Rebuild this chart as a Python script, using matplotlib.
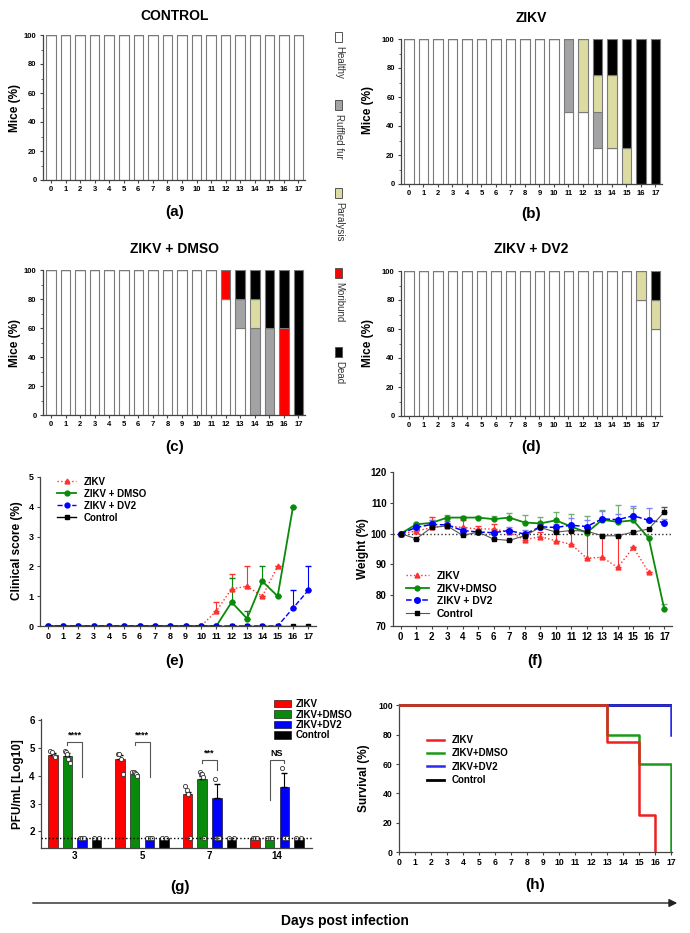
import numpy as np
import matplotlib
matplotlib.use("Agg")
import matplotlib.pyplot as plt
from matplotlib.patches import Rectangle, FancyArrowPatch
from matplotlib.ticker import MultipleLocator

plt.rcParams['font.family'] = ['Liberation Sans', 'DejaVu Sans']
plt.rcParams['font.weight'] = 'bold'

days = np.arange(18)

# ---- stacked clinical status (% of mice) ----
states = ['Healthy', 'Ruffled fur', 'Paralysis', 'Moribund', 'Dead']
state_colors = ['white', '#a3a3a6', '#dcdca2', '#ff0000', '#000000']

ctrl_healthy = [100] * 18
ctrl_ruffled = [0] * 18
ctrl_paral = [0] * 18
ctrl_morib = [0] * 18
ctrl_dead = [0] * 18

zikv_healthy = [100] * 11 + [50, 50, 25, 25, 0, 0, 0]
zikv_ruffled = [0] * 11 + [50, 0, 25, 0, 0, 0, 0]
zikv_paral = [0] * 11 + [0, 50, 25, 50, 25, 0, 0]
zikv_morib = [0] * 18
zikv_dead = [0] * 11 + [0, 0, 25, 25, 75, 100, 100]

dmso_healthy = [100] * 12 + [80, 60, 0, 0, 0, 0]
dmso_ruffled = [0] * 12 + [0, 20, 60, 60, 0, 0]
dmso_paral = [0] * 12 + [0, 0, 20, 0, 0, 0]
dmso_morib = [0] * 12 + [20, 0, 0, 0, 60, 0]
dmso_dead = [0] * 12 + [0, 20, 20, 40, 40, 100]

dv2_healthy = [100] * 16 + [80, 60]
dv2_ruffled = [0] * 18
dv2_paral = [0] * 16 + [20, 20]
dv2_morib = [0] * 18
dv2_dead = [0] * 16 + [0, 20]

# ---- clinical score ----
score_zikv = [0] * 11 + [0.5, 1.25, 1.33, 1.0, 2.0]
score_zikv_err = [0] * 11 + [0.3, 0.5, 0.67, 0, 0]
score_dmso = [0] * 12 + [0.8, 0.25, 1.5, 1.0, 4.0]
score_dmso_err = [0] * 12 + [0.8, 0.25, 0.5, 0, 0]
score_dv2 = [0] * 16 + [0.6, 1.2]
score_dv2_err = [0] * 16 + [0.6, 0.8]
score_ctrl = [0] * 18

# ---- weight (%) ----
w_zikv = [100, 100.8, 102, 102.5, 102, 101.5, 101.5, 100.5, 98, 99, 97.7, 96.5,
          92, 92.3, 89, 95.5, 87.5]
w_zikv_err = [0, 0.8, 3.5, 1.5, 2.5, 1, 1.5, 1, 1, 1.5, 3.5, 4.5, 8.5, 7.5, 10.5, 0, 0]
w_dmso = [100, 103, 103.5, 105.2, 105.2, 105.2, 104.7, 105.2, 103.6, 103.3, 104.3,
          102.3, 100.3, 104.5, 103.8, 104.3, 98.5, 75.5]
w_dmso_err = [0, 0.5, 0.8, 1, 0.5, 0.5, 1, 1.5, 2.5, 2.2, 2.8, 4.2, 5.5, 3.3, 5.5, 4, 0, 1.5]
w_dv2 = [100, 102, 103, 102.8, 101, 100.5, 100.3, 101, 99.8, 102.2, 102, 102.7,
         102.3, 104.8, 104.5, 105.8, 104.3, 103.6]
w_dv2_err = [0, 0.8, 1.5, 0.5, 0.8, 0.8, 1, 1, 1.5, 1, 1, 2.5, 2, 2.5, 2, 3, 4, 1]
w_ctrl = [100, 98.3, 102, 102.5, 99.4, 100.5, 98.2, 97.8, 99.3, 102, 100.5, 101,
          100.8, 99.3, 99.3, 100.5, 101.5, 107]
w_ctrl_err = [0] * 17 + [1.5]

# ---- viral titre (log10 PFU/mL) ----
titre_days = ['3', '5', '7', '14']
titre_groups = ['ZIKV', 'ZIKV+DMSO', 'ZIKV+DV2', 'Control']
titre_colors = ['#ff0000', '#0a8a0a', '#0000ff', '#000000']
titre_mean = [[4.75, 4.6, 3.33, 1.75],
              [4.72, 4.05, 3.88, 1.75],
              [1.75, 1.75, 3.2, 3.6],
              [1.75, 1.75, 1.75, 1.75]]
titre_err = [[0.08, 0.15, 0.1, 0],
             [0.12, 0.05, 0.1, 0],
             [0, 0, 0.5, 0.5],
             [0, 0, 0, 0]]
titre_points = [
    [[4.88, 4.85, 4.7, 4.68], [4.8, 4.78, 4.6, 4.05], [3.65, 3.5, 3.35, 1.75], [1.75, 1.75, 1.75]],
    [[4.9, 4.85, 4.78, 4.6, 4.45], [4.13, 4.13, 4.1, 4.05, 4.0], [4.15, 4.08, 4.05, 3.95, 1.75], [1.75, 1.75, 1.75]],
    [[1.75, 1.75, 1.75], [1.75, 1.75, 1.75], [3.88, 1.75, 1.75, 1.75], [4.3, 1.75, 1.75]],
    [[1.75, 1.75], [1.75, 1.75], [1.75, 1.75], [1.75, 1.75]],
]
detect_limit = 1.75
sig_labels = ['****', '****', '***', 'NS']

# ---- survival (%) ----
surv_zikv_t = [0, 13, 13, 15, 15, 16, 16]
surv_zikv = [100, 100, 75, 75, 25, 25, 0]
surv_dmso_t = [0, 13, 13, 15, 15, 17, 17]
surv_dmso = [100, 100, 80, 80, 60, 60, 0]
surv_dv2_t = [0, 17, 17]
surv_dv2 = [100, 100, 80]
surv_ctrl_t = [0, 17]
surv_ctrl = [100, 100]

W, H = 690, 933
fig = plt.figure(figsize=(W / 100, H / 100), dpi=100)


def px_axes(l, t, r, b):
    return fig.add_axes([l / W, 1 - b / H, (r - l) / W, (b - t) / H])


def style(ax, fs=5.5):
    for s in ['top', 'right']:
        ax.spines[s].set_visible(False)
    for s in ['left', 'bottom']:
        ax.spines[s].set_color('#444444')
        ax.spines[s].set_linewidth(0.9)
    ax.tick_params(labelsize=fs, length=2.5, width=0.8, color='#444444', pad=2)
    for lab in ax.get_xticklabels() + ax.get_yticklabels():
        lab.set_fontweight('bold')


def stacked(ax, layers):
    bottom = np.zeros(18)
    for vals, c in zip(layers, state_colors):
        vals = np.array(vals, dtype=float)
        ax.bar(days, vals, 0.66, bottom=bottom, color=c, edgecolor='#7a7a7a', linewidth=0.8)
        bottom += vals
    ax.set_xlim(-0.55, 17.45)
    ax.set_ylim(0, 100)
    ax.set_xticks(days)
    ax.set_yticks(range(0, 101, 20))
    ax.yaxis.set_minor_locator(MultipleLocator(10))
    ax.tick_params(which='minor', length=1.5, color='#444444')
    style(ax)


ax_a = px_axes(43, 35, 305, 180)
stacked(ax_a, [ctrl_healthy, ctrl_ruffled, ctrl_paral, ctrl_morib, ctrl_dead])
ax_b = px_axes(401, 39, 662, 184)
stacked(ax_b, [zikv_healthy, zikv_ruffled, zikv_paral, zikv_morib, zikv_dead])
ax_c = px_axes(43, 270, 305, 415)
stacked(ax_c, [dmso_healthy, dmso_ruffled, dmso_paral, dmso_morib, dmso_dead])
ax_d = px_axes(401, 271, 662, 416)
stacked(ax_d, [dv2_healthy, dv2_ruffled, dv2_paral, dv2_morib, dv2_dead])

for (x, y, t) in [(175, 16, 'CONTROL'), (531, 18, 'ZIKV'),
                  (175, 249, 'ZIKV + DMSO'), (531, 249, 'ZIKV + DV2')]:
    fig.text(x / W, 1 - y / H, t, ha='center', va='center', fontsize=10, fontweight='bold')
for (x, y) in [(15, 108), (368, 110), (15, 343), (368, 343)]:
    fig.text(x / W, 1 - y / H, 'Mice (%)', rotation=90, ha='center', va='center',
             fontsize=8.5, fontweight='bold')

# vertical legend for states
leg_y = [32, 100, 188, 268, 347]
for st, c, y in zip(states, state_colors, leg_y):
    fig.add_artist(Rectangle((335 / W, 1 - (y + 10) / H), 7 / W, 10 / H, transform=fig.transFigure,
                             facecolor=c, edgecolor='#555555', linewidth=0.7))
    fig.text(339 / W, 1 - (y + 14) / H, st, rotation=270, ha='center', va='top',
             fontsize=7, fontweight='normal', color='#333333')

# ---- (e) clinical score ----
ax_e = px_axes(40, 477, 316, 626)
h1 = ax_e.errorbar(days[:16], score_zikv, yerr=[np.zeros(16), score_zikv_err], color='#ff3030',
                   ls=':', marker='^', ms=3.5, lw=1, capsize=2.5, elinewidth=0.8)
h2 = ax_e.errorbar(days[:17], score_dmso, yerr=[np.zeros(17), score_dmso_err], color='#0a8a0a',
                   ls='-', marker='o', ms=3.5, lw=1.3, capsize=2.5, elinewidth=0.8)
h3 = ax_e.errorbar(days, score_dv2, yerr=[np.zeros(18), score_dv2_err], color='#0000ff',
                   ls='--', marker='o', ms=3.5, lw=1, capsize=2.5, elinewidth=0.8)
h4, = ax_e.plot(days, score_ctrl, color='black', ls='-', marker='s', ms=3.5, lw=1, zorder=1)
ax_e.set_xlim(-0.5, 17.5)
ax_e.set_ylim(0, 5)
ax_e.set_xticks(days)
ax_e.set_yticks(range(6))
style(ax_e, 6.5)
ax_e.legend([h1[0], h2[0], h3[0], h4], ['ZIKV', 'ZIKV + DMSO', 'ZIKV + DV2', 'Control'],
            loc='upper left', bbox_to_anchor=(0.04, 1.04), frameon=False,
            prop={'weight': 'bold', 'size': 7}, handlelength=2, labelspacing=0.2, borderpad=0.1)
fig.text(17 / W, 1 - 551 / H, 'Clinical score (%)', rotation=90, ha='center', va='center',
         fontsize=8.5, fontweight='bold')

# ---- (f) weight ----
ax_f = px_axes(393, 472, 672, 626)
ax_f.axhline(100, color='#333333', ls=':', lw=1)
f1 = ax_f.errorbar(days[:17], w_zikv, yerr=[np.zeros(17), w_zikv_err], color='#ff3030', ls=':',
                   marker='^', ms=3.5, lw=1, capsize=2, elinewidth=0.8)
f2 = ax_f.errorbar(days, w_dmso, yerr=[np.zeros(18), w_dmso_err], color='#0a8a0a', ls='-',
                   marker='o', ms=3.5, lw=1.3, capsize=2, elinewidth=0.8, ecolor='#70b070')
f3 = ax_f.errorbar(days, w_dv2, yerr=[np.zeros(18), w_dv2_err], color='#0000ff', ls='--',
                   marker='o', ms=4, lw=1.1, capsize=2, elinewidth=0.8, ecolor='#8080ff')
f4 = ax_f.errorbar(days, w_ctrl, yerr=[np.zeros(18), w_ctrl_err], color='#555555', ls='-',
                   marker='s', ms=3.5, mfc='black', mec='black', lw=0.8, capsize=2, elinewidth=0.8)
ax_f.set_xlim(-0.5, 17.5)
ax_f.set_ylim(70, 120)
ax_f.set_xticks(days)
ax_f.set_yticks(range(70, 121, 10))
style(ax_f, 7)
ax_f.legend([f1[0], f2[0], f3[0], f4[0]], ['ZIKV', 'ZIKV+DMSO', 'ZIKV + DV2', 'Control'],
            loc='lower left', bbox_to_anchor=(0.02, 0.0), frameon=False,
            prop={'weight': 'bold', 'size': 7.5}, handlelength=2.2, labelspacing=0.25, borderpad=0.2)
fig.text(363 / W, 1 - 549 / H, 'Weight (%)', rotation=90, ha='center', va='center',
         fontsize=8.5, fontweight='bold')

# ---- (g) viral titre ----
ax_g = px_axes(41, 719, 312, 848)
xg = np.arange(len(titre_days))
offs = [-0.325, -0.11, 0.11, 0.325]
bw = 0.14
for gi in range(4):
    ax_g.bar(xg + offs[gi], np.array(titre_mean[gi]) - 1.4, bw, bottom=1.4, color=titre_colors[gi],
             edgecolor='black', linewidth=0.4, label=titre_groups[gi], zorder=2)
    errs = np.array(titre_err[gi])
    ax_g.errorbar(xg + offs[gi], titre_mean[gi], yerr=[np.zeros(4), errs], fmt='none',
                  ecolor='black', elinewidth=0.8, capsize=2, zorder=3)
    for di in range(4):
        pts = titre_points[gi][di]
        n = len(pts)
        jit = np.linspace(-0.035, 0.035, n) if n > 1 else [0]
        ax_g.plot(xg[di] + offs[gi] + np.array(jit), pts, 'o', ms=3, mfc='white',
                  mec='#333333', mew=0.6, zorder=4)
ax_g.axhline(detect_limit, color='black', ls=':', lw=1, zorder=5)
# significance brackets between ZIKV+DMSO and ZIKV+DV2
br_top = [5.22, 5.22, 4.59, 4.57]
br_left = [5.12, 5.12, 4.45, 3.14]
br_right = [3.95, 3.95, 4.21, 4.45]
for di in range(4):
    x1, x2 = xg[di] + offs[1], xg[di] + offs[2]
    ax_g.plot([x1, x1, x2, x2], [br_left[di], br_top[di], br_top[di], br_right[di]],
              color='#555555', lw=0.8)
    ax_g.text((x1 + x2) / 2, br_top[di] + 0.08, sig_labels[di], ha='center', va='bottom',
              fontsize=6.5, fontweight='bold')
ax_g.set_xlim(-0.5, 3.52)
ax_g.set_ylim(1.4, 6.05)
ax_g.set_xticks(xg)
ax_g.set_xticklabels(titre_days)
ax_g.set_yticks(range(2, 7))
style(ax_g, 7)
ax_g.tick_params(axis='x', length=0)
ax_g.legend(loc='upper left', bbox_to_anchor=(0.84, 1.2), frameon=False,
            prop={'weight': 'bold', 'size': 7}, handlelength=1.7, handleheight=0.8,
            labelspacing=0.05, borderpad=0.1, handletextpad=0.5)
fig.text(18 / W, 1 - 784 / H, 'PFU/mL [Log10]', rotation=90, ha='center', va='center',
         fontsize=8.5, fontweight='bold')

# ---- (h) survival ----
ax_h = px_axes(399, 704, 672, 852)
ax_h.plot(surv_ctrl_t, surv_ctrl, color='black', lw=2, label='Control', zorder=1)
ax_h.plot(surv_dv2_t, surv_dv2, color='#2a2aee', lw=1.8, label='ZIKV+DV2', zorder=2)
ax_h.plot(surv_dmso_t, surv_dmso, color='#1a9a1a', lw=1.8, label='ZIKV+DMSO', zorder=3)
ax_h.plot(surv_zikv_t, surv_zikv, color='#ee2020', lw=1.8, label='ZIKV', zorder=4)
ax_h.set_xlim(0, 17.05)
ax_h.set_ylim(0, 101)
ax_h.set_xticks(days)
ax_h.set_yticks(range(0, 101, 20))
style(ax_h, 6.2)
hs, ls_ = ax_h.get_legend_handles_labels()
ax_h.legend(hs[::-1], ls_[::-1], loc='upper left', bbox_to_anchor=(0.08, 0.83), frameon=False,
            prop={'weight': 'bold', 'size': 7}, handlelength=1.8, labelspacing=0.35, borderpad=0.1)
fig.text(364 / W, 1 - 778 / H, 'Survival (%)', rotation=90, ha='center', va='center',
         fontsize=8.5, fontweight='bold')

# panel letters
for (x, y, t) in [(175, 212, '(a)'), (531, 214, '(b)'), (175, 447, '(c)'), (531, 447, '(d)'),
                  (175, 661, '(e)'), (535, 661, '(f)'), (180, 887, '(g)'), (535, 885, '(h)')]:
    fig.text(x / W, 1 - y / H, t, ha='center', va='center', fontsize=11, fontweight='bold')

# bottom arrow
fig.add_artist(FancyArrowPatch((30 / W, 1 - 903 / H), (680 / W, 1 - 903 / H),
                               transform=fig.transFigure, arrowstyle='-|>', mutation_scale=12,
                               color='#222222', lw=1))
fig.text(345 / W, 1 - 921 / H, 'Days post infection', ha='center', va='center',
         fontsize=10, fontweight='bold')

fig.savefig('out.png', dpi=100)
